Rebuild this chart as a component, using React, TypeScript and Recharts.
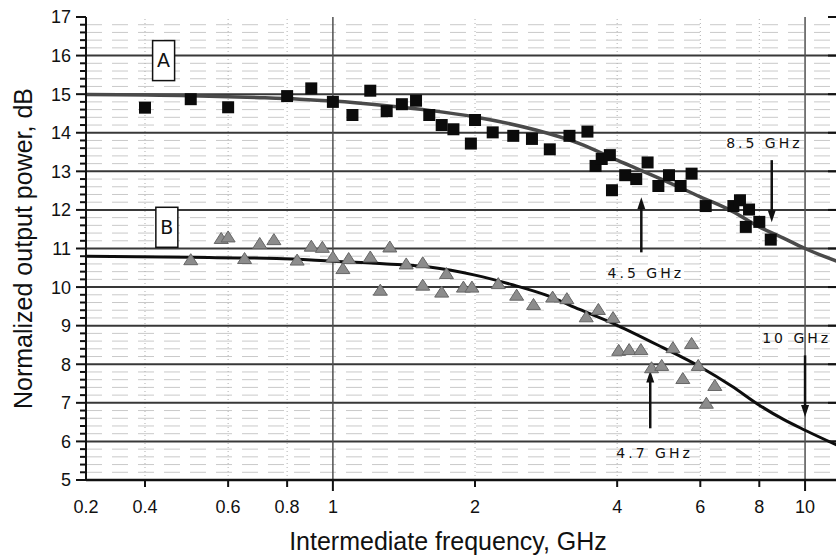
import React from 'react';
import {
    ComposedChart,
    Line,
    Scatter,
    XAxis,
    YAxis,
    ReferenceLine,
    ReferenceDot,
} from 'recharts';

// measured points, [frequency GHz, normalized power dB]
const seriesA: [number, number][] = [
    [0.4, 14.65], [0.5, 14.87], [0.6, 14.66], [0.8, 14.95], [0.9, 15.15], [1.0, 14.8],
    [1.1, 14.46], [1.2, 15.09], [1.3, 14.56], [1.4, 14.74], [1.5, 14.83], [1.6, 14.46],
    [1.7, 14.2], [1.8, 14.09], [1.96, 13.72], [2.0, 14.33], [2.18, 14.01], [2.41, 13.92],
    [2.64, 13.84], [2.88, 13.57], [3.17, 13.92], [3.46, 14.03], [3.6, 13.14], [3.71, 13.32],
    [3.86, 13.42], [3.9, 12.51], [4.16, 12.9], [4.39, 12.8], [4.64, 13.23], [4.89, 12.62],
    [5.15, 12.9], [5.45, 12.62], [5.75, 12.94], [6.16, 12.1], [7.05, 12.1], [7.28, 12.25],
    [7.61, 12.01], [7.49, 11.56], [8.0, 11.69], [8.46, 11.23],
];

const seriesB: [number, number][] = [
    [0.5, 10.71], [0.58, 11.26], [0.6, 11.3], [0.65, 10.74], [0.7, 11.13], [0.75, 11.23],
    [0.84, 10.7], [0.9, 11.06], [0.95, 11.03], [1.0, 10.78], [1.05, 10.48], [1.08, 10.74],
    [1.2, 10.78], [1.26, 9.92], [1.32, 11.04], [1.43, 10.6], [1.55, 10.63], [1.55, 10.05],
    [1.7, 9.87], [1.74, 10.35], [1.89, 10.0], [1.97, 10.0], [2.24, 10.09], [2.45, 9.79],
    [2.66, 9.55], [2.92, 9.74], [3.13, 9.7], [3.44, 9.23], [3.65, 9.42], [3.92, 9.21],
    [4.03, 8.36], [4.24, 8.38], [4.49, 8.38], [4.73, 7.91], [4.97, 7.97], [5.25, 8.43],
    [5.51, 7.63], [5.75, 8.54], [5.94, 7.97], [6.18, 6.99], [6.44, 7.45],
];

// fitted curves
const fitA: [number, number][] = [
    [0.3, 14.99], [0.5, 14.96], [0.7, 14.91], [0.85, 14.87], [1, 14.82], [1.3, 14.7],
    [1.6, 14.58], [2, 14.41], [2.69, 14.07], [3.33, 13.72], [4, 13.29], [5, 12.78],
    [6, 12.34], [7, 11.97], [8, 11.56], [9, 11.27], [10, 11.0], [11.8, 10.65],
];

const fitB: [number, number][] = [
    [0.3, 10.8], [0.5, 10.77], [0.76, 10.74], [1, 10.67], [1.3, 10.6], [1.6, 10.52],
    [2, 10.31], [2.4, 10.06], [2.83, 9.79], [3.33, 9.42], [4, 9.01], [5, 8.43],
    [6, 7.93], [7, 7.43], [8, 6.94], [9, 6.57], [10, 6.29], [11.8, 5.88],
];

// corner label of the source figure reads "0.2"
const xTicks = [0.3, 0.4, 0.6, 0.8, 1, 2, 4, 6, 8, 10];
const xTickLabels = ['0.2', '0.4', '0.6', '0.8', '1', '2', '4', '6', '8', '10'];
const xMinorGrid = [0.4, 0.6, 0.8, 2, 4, 6, 8];
const xMajorGrid = [1, 10];

const yMajor = [5, 6, 7, 8, 9, 10, 11, 12, 13, 14, 15, 16, 17];
const yAll: number[] = [];
for (let v = 50; v <= 170; v += 2) yAll.push(v / 10);
const yMinorGrid = yAll.filter((v) => !Number.isInteger(v));
const yMajorGrid = yMajor.slice(1, -1);

const notes = [
    { text: '8.5 GHz', x: 8.2, y: 13.73 },
    { text: '4.5 GHz', x: 4.6, y: 10.36 },
    { text: '10 GHz', x: 9.6, y: 8.67 },
    { text: '4.7 GHz', x: 4.8, y: 5.7 },
];

const arrows = [
    { x: 8.5, from: 13.29, to: 11.68 },
    { x: 4.5, from: 10.9, to: 12.33 },
    { x: 10, from: 8.23, to: 6.63 },
    { x: 4.7, from: 6.34, to: 7.84 },
];

const boxes = [
    { text: 'A', x: 0.438, y: 15.87 },
    { text: 'B', x: 0.445, y: 11.55 },
];

const toPts = (s: [number, number][]) => s.map(([f, v]) => ({ f, v }));

const FONT = '"Liberation Sans", Arial, sans-serif';
const INK = '#111';

const BottomTick = (p: any) => {
    const v = p.payload.value;
    const i = xTicks.indexOf(v);
    const len = v === 0.3 ? 0 : v === 1 || v === 10 ? 11 : 7;
    return (
        <g>
            {len > 0 && <line x1={p.x} x2={p.x} y1={p.y} y2={p.y + len} stroke={INK} strokeWidth={2} />}
            <text x={p.x} y={p.y + 33} textAnchor="middle" fontSize={18} fontFamily={FONT} fill={INK}>
                {xTickLabels[i]}
            </text>
        </g>
    );
};

const TopTick = (p: any) => {
    const v = p.payload.value;
    const len = v === 0.3 ? 0 : v === 1 || v === 10 ? 9 : 7;
    if (!len) return <g />;
    return <line x1={p.x} x2={p.x} y1={p.y} y2={p.y + len} stroke={INK} strokeWidth={2} />;
};

const LeftTick = (p: any) => {
    const v = p.payload.value;
    const major = Number.isInteger(v);
    return (
        <g>
            <line x1={p.x - (major ? 10 : 6)} x2={p.x} y1={p.y} y2={p.y} stroke={INK} strokeWidth={2} />
            {major && (
                <text x={p.x - 15} y={p.y} dy="0.36em" textAnchor="end" fontSize={18} fontFamily={FONT} fill={INK}>
                    {v}
                </text>
            )}
        </g>
    );
};

const RightTick = (p: any) => (
    <line x1={p.x - 11} x2={p.x} y1={p.y} y2={p.y} stroke={INK} strokeWidth={2} />
);

const Square = (p: any) => (
    <rect x={p.cx - 6} y={p.cy - 6} width={12} height={12} fill="#0b0b0b" />
);

const Triangle = (p: any) => (
    <polygon
        points={`${p.cx},${p.cy - 6} ${p.cx - 7},${p.cy + 5} ${p.cx + 7},${p.cy + 5}`}
        fill="#8c8c8c"
        stroke="#666"
        strokeWidth={1}
    />
);

const Arrow = (p: any) => {
    const { x1, y1, x2, y2 } = p;
    const dir = y2 > y1 ? 1 : -1;
    return (
        <g>
            <line x1={x1} y1={y1} x2={x2} y2={y2 - dir * 8} stroke={INK} strokeWidth={2.5} />
            <polygon points={`${x2},${y2} ${x2 - 4},${y2 - dir * 12} ${x2 + 4},${y2 - dir * 12}`} fill={INK} />
        </g>
    );
};

const noteShape = (text: string) => (p: any) => (
    <text x={p.cx} y={p.cy} dy="0.36em" textAnchor="middle" fontSize={14} letterSpacing={3}
        fontFamily='"DejaVu Sans", sans-serif' fill={INK}>
        {text}
    </text>
);

const boxShape = (text: string) => (p: any) => (
    <g>
        <rect x={p.cx - 11} y={p.cy - 20} width={22} height={40} fill="#fff" stroke={INK} strokeWidth={1.5} />
        <text x={p.cx} y={p.cy} dy="0.36em" textAnchor="middle" fontSize={19} fontFamily='"DejaVu Sans", sans-serif' fill={INK}>
            {text}
        </text>
    </g>
);

const YTitle = (p: any) => {
    const vb = p.viewBox;
    const cx = vb.x + 23;
    const cy = vb.y + vb.height / 2;
    return (
        <text x={cx} y={cy} transform={`rotate(-90, ${cx}, ${cy})`} textAnchor="middle" dominantBaseline="central"
            fontSize={25} fontFamily={FONT} fill={INK}>
            Normalized output power, dB
        </text>
    );
};

const XTitle = (p: any) => {
    const vb = p.viewBox;
    return (
        <text x={vb.x + 362} y={550} textAnchor="middle" fontSize={25} fontFamily={FONT} fill={INK}>
            Intermediate frequency, GHz
        </text>
    );
};

const App: React.FC = () => {
    return (
        <div style={{ position: 'absolute', left: 0, top: 0, width: 836, height: 559, overflow: 'hidden', background: '#fff' }}>
            <ComposedChart width={850} height={559} margin={{ top: 17, right: 0, bottom: 39, left: 0 }}>
                <XAxis
                    dataKey="f"
                    type="number"
                    scale="log"
                    domain={[0.3, 11.8]}
                    allowDataOverflow
                    ticks={xTicks}
                    interval={0}
                    height={40}
                    tickSize={0}
                    tickMargin={0}
                    tickLine={false}
                    tick={BottomTick}
                    axisLine={{ stroke: INK, strokeWidth: 2.5 }}
                    label={XTitle}
                />
                <XAxis
                    xAxisId="top"
                    orientation="top"
                    dataKey="f"
                    type="number"
                    scale="log"
                    domain={[0.3, 11.8]}
                    allowDataOverflow
                    ticks={xTicks}
                    interval={0}
                    height={0}
                    tickSize={0}
                    tickMargin={0}
                    tickLine={false}
                    tick={TopTick}
                    axisLine={{ stroke: INK, strokeWidth: 2 }}
                />
                <YAxis
                    type="number"
                    domain={[5, 17]}
                    allowDataOverflow
                    ticks={yAll}
                    interval={0}
                    width={86}
                    tickSize={0}
                    tickMargin={0}
                    tickLine={false}
                    tick={LeftTick}
                    axisLine={{ stroke: INK, strokeWidth: 2 }}
                    label={YTitle}
                />
                <YAxis
                    yAxisId="r"
                    orientation="right"
                    type="number"
                    domain={[5, 17]}
                    allowDataOverflow
                    ticks={yMajor}
                    interval={0}
                    width={11}
                    tickSize={0}
                    tickMargin={0}
                    tickLine={false}
                    tick={RightTick}
                    axisLine={{ stroke: INK, strokeWidth: 2 }}
                />

                {yMinorGrid.map((v) => (
                    <ReferenceLine key={'hm' + v} y={v} stroke="#c9c9c9" strokeWidth={1} strokeDasharray="16 10" />
                ))}
                {xMinorGrid.map((v) => (
                    <ReferenceLine key={'vm' + v} x={v} stroke="#b0b0b0" strokeWidth={1} strokeDasharray="1 3" />
                ))}
                {yMajorGrid.map((v) => (
                    <ReferenceLine key={'hM' + v} y={v} stroke="#383838" strokeWidth={2} />
                ))}
                {xMajorGrid.map((v) => (
                    <ReferenceLine key={'vM' + v} x={v} stroke="#505050" strokeWidth={1.5} />
                ))}

                {boxes.map((b) => (
                    <ReferenceDot key={b.text} x={b.x} y={b.y} r={0} shape={boxShape(b.text)} />
                ))}

                <Line data={toPts(fitA)} dataKey="v" type="monotone" stroke="#4a4a4a" strokeWidth={3.5}
                    dot={false} activeDot={false} isAnimationActive={false} />
                <Line data={toPts(fitB)} dataKey="v" type="monotone" stroke="#0d0d0d" strokeWidth={3}
                    dot={false} activeDot={false} isAnimationActive={false} />
                <Scatter data={toPts(seriesA)} dataKey="v" shape={Square} isAnimationActive={false} />
                <Scatter data={toPts(seriesB)} dataKey="v" shape={Triangle} isAnimationActive={false} />

                {arrows.map((a) => (
                    <ReferenceLine key={'a' + a.x} segment={[{ x: a.x, y: a.from }, { x: a.x, y: a.to }]} shape={Arrow} />
                ))}
                {notes.map((n) => (
                    <ReferenceDot key={n.text} x={n.x} y={n.y} r={0} shape={noteShape(n.text)} />
                ))}
            </ComposedChart>
        </div>
    );
};

export default App;
